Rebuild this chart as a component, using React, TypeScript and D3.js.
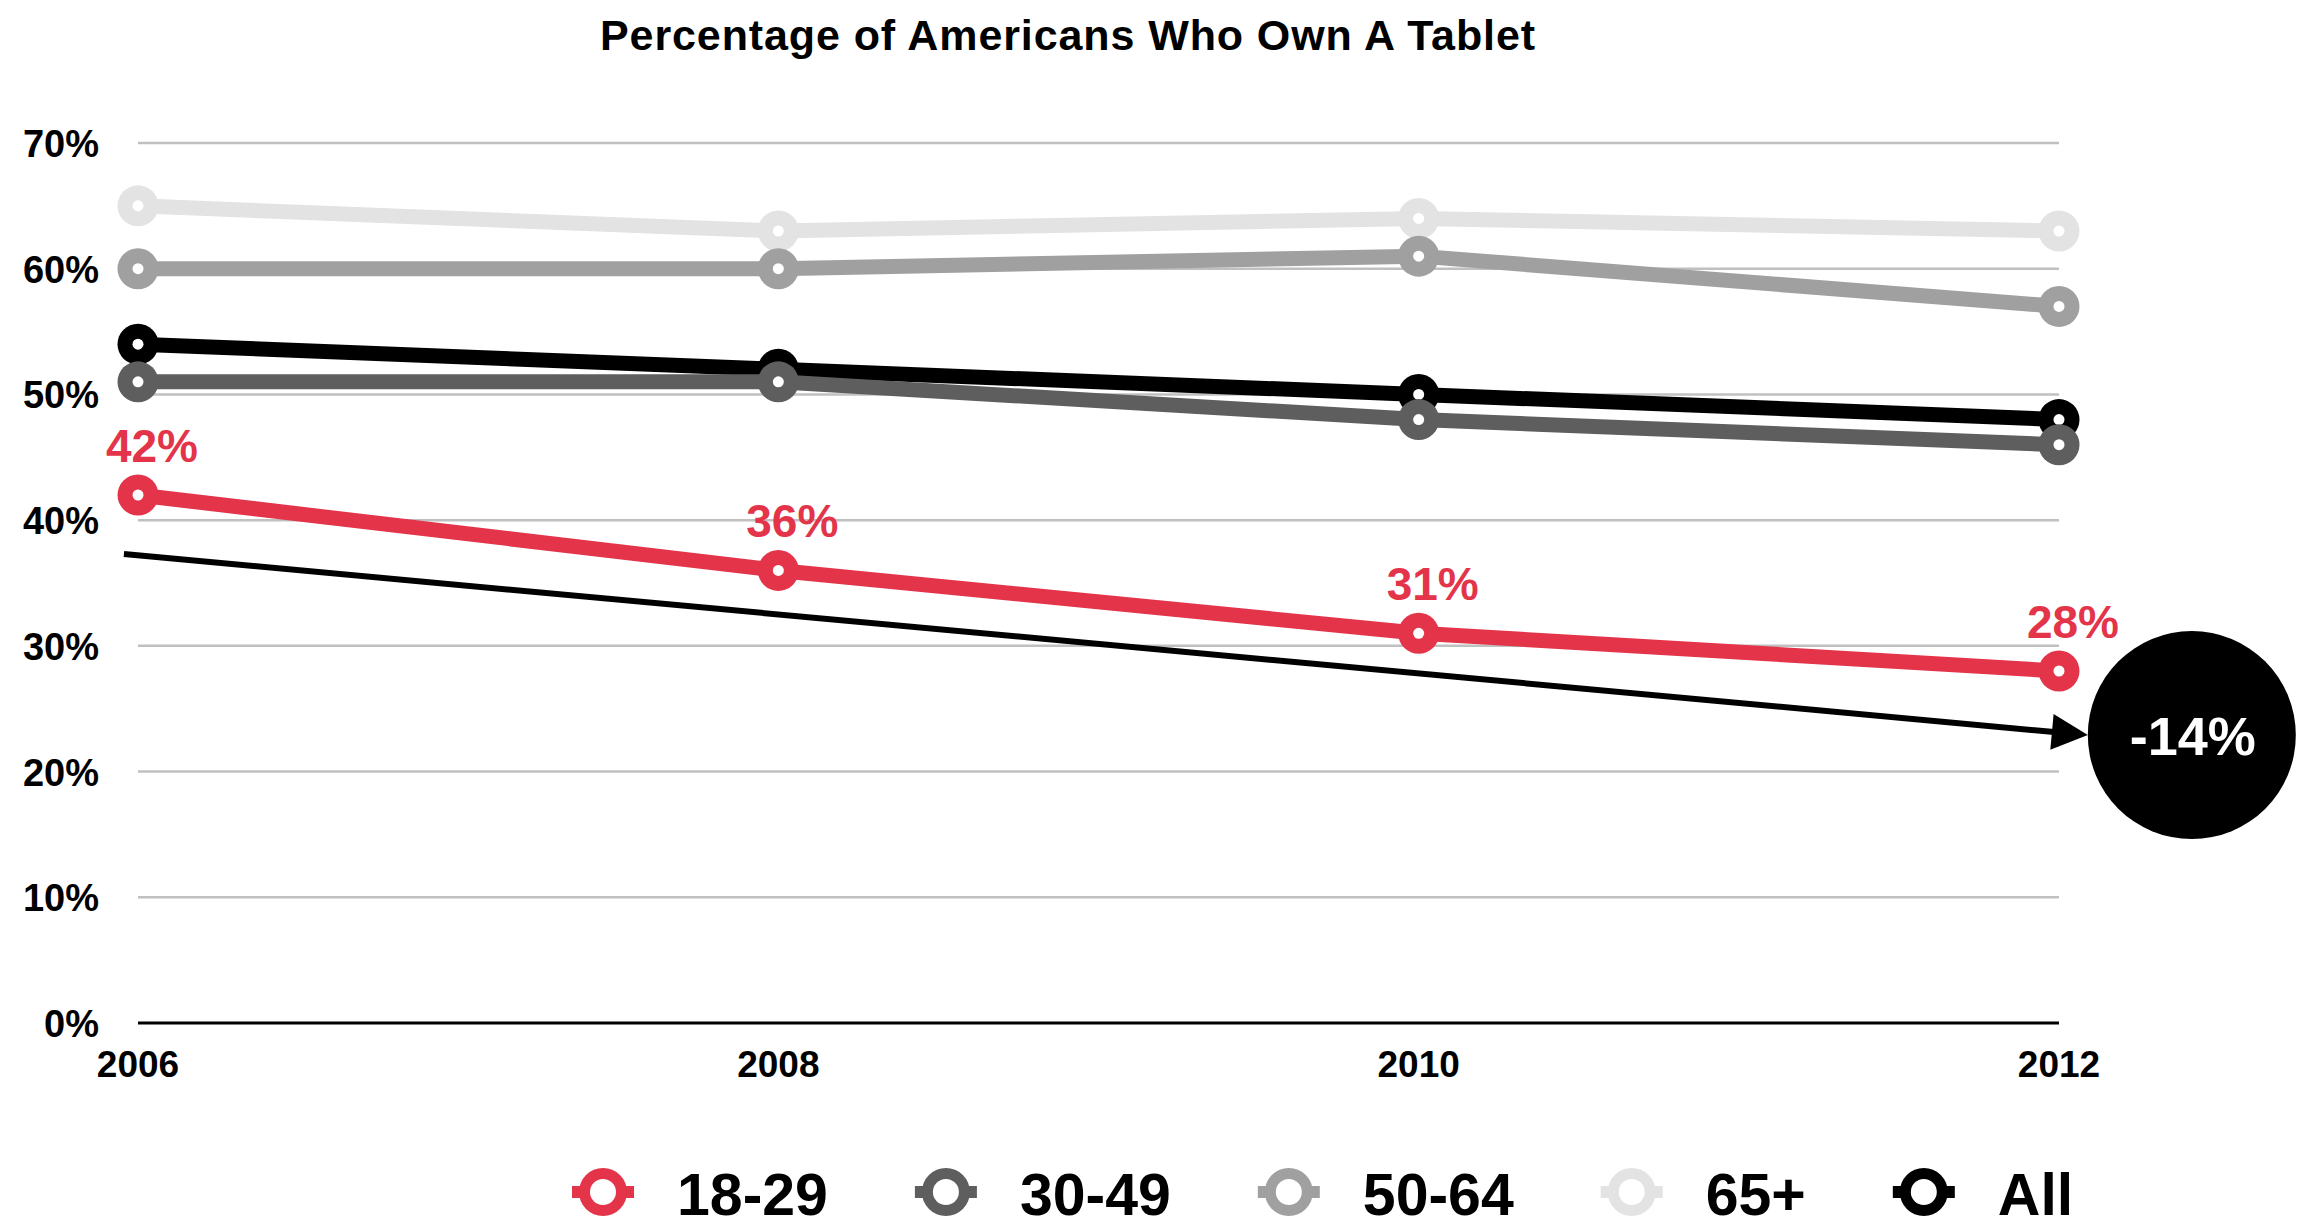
import React, { useEffect, useRef } from "react";
import * as d3 from "d3";

const title = "Percentage of Americans Who Own A Tablet";
const years = [2006, 2008, 2010, 2012];
const yTicks = [0, 10, 20, 30, 40, 50, 60, 70];

const seriesNames = ["18-29", "30-49", "50-64", "65+", "All"];
const youngValues = [42, 36, 31, 28];
const middleValues = [51, 51, 48, 46];
const olderValues = [60, 60, 61, 57];
const seniorValues = [65, 63, 64, 63];
const allValues = [54, 52, 50, 48];

// trend annotation (year, percent)
const trendStart = [2005.956, 37.3];
const trendEnd = [2012.09, 22.9];
const changeLabel = "-14%";

const colors: Record<string, string> = {
  "18-29": "#e3344a",
  "30-49": "#5e5e5e",
  "50-64": "#a0a0a0",
  "65+": "#e2e3e2",
  All: "#000000",
};

const FONT = "'Liberation Sans', Arial, Helvetica, sans-serif";
const W = 2307;
const H = 1228;

const App: React.FC = () => {
  const svgRef = useRef<SVGSVGElement | null>(null);

  useEffect(() => {
    if (!svgRef.current) return;
    const svg = d3.select(svgRef.current);
    svg.selectAll("*").remove();

    const x = d3.scaleLinear().domain([2006, 2012]).range([138, 2059]);
    const y = d3.scaleLinear().domain([0, 70]).range([1023, 143]);

    const valuesByName: Record<string, number[]> = {
      "18-29": youngValues,
      "30-49": middleValues,
      "50-64": olderValues,
      "65+": seniorValues,
      All: allValues,
    };

    svg
      .append("text")
      .attr("x", 1068)
      .attr("y", 50)
      .attr("text-anchor", "middle")
      .attr("font-family", FONT)
      .attr("font-weight", "bold")
      .attr("font-size", 43)
      .attr("letter-spacing", 0.9)
      .text(title);

    // grid
    svg
      .append("g")
      .selectAll("line")
      .data(yTicks.filter((t) => t > 0))
      .enter()
      .append("line")
      .attr("x1", x(2006))
      .attr("x2", x(2012))
      .attr("y1", (d) => y(d))
      .attr("y2", (d) => y(d))
      .attr("stroke", "#c0c0c0")
      .attr("stroke-width", 2.5);

    svg
      .append("line")
      .attr("x1", x(2006))
      .attr("x2", x(2012))
      .attr("y1", y(0))
      .attr("y2", y(0))
      .attr("stroke", "#000")
      .attr("stroke-width", 3);

    svg
      .append("g")
      .selectAll("text")
      .data(yTicks)
      .enter()
      .append("text")
      .attr("x", 99)
      .attr("y", (d) => y(d) + 14)
      .attr("text-anchor", "end")
      .attr("font-family", FONT)
      .attr("font-weight", "bold")
      .attr("font-size", 38)
      .text((d) => `${d}%`);

    svg
      .append("g")
      .selectAll("text")
      .data(years)
      .enter()
      .append("text")
      .attr("x", (d) => x(d))
      .attr("y", 1077)
      .attr("text-anchor", "middle")
      .attr("font-family", FONT)
      .attr("font-weight", "bold")
      .attr("font-size", 37)
      .text((d) => d);

    // trend arrow
    const tx0 = x(trendStart[0]);
    const ty0 = y(trendStart[1]);
    const tx1 = x(trendEnd[0]);
    const ty1 = y(trendEnd[1]);
    const len = Math.hypot(tx1 - tx0, ty1 - ty0);
    const ux = (tx1 - tx0) / len;
    const uy = (ty1 - ty0) / len;
    const headLen = 36;
    const headHalf = 18;
    const bx = tx1 - ux * headLen;
    const by = ty1 - uy * headLen;
    svg
      .append("line")
      .attr("x1", tx0)
      .attr("y1", ty0)
      .attr("x2", bx + ux * 2)
      .attr("y2", by + uy * 2)
      .attr("stroke", "#000")
      .attr("stroke-width", 6);
    svg
      .append("path")
      .attr(
        "d",
        `M${tx1},${ty1}L${bx - uy * headHalf},${by + ux * headHalf}L${bx + uy * headHalf},${by - ux * headHalf}Z`
      )
      .attr("fill", "#000");

    const r = 104;
    svg
      .append("circle")
      .attr("cx", tx1 + r)
      .attr("cy", ty1)
      .attr("r", r)
      .attr("fill", "#000");
    svg
      .append("text")
      .attr("x", tx1 + r + 1)
      .attr("y", ty1 + 20)
      .attr("text-anchor", "middle")
      .attr("font-family", FONT)
      .attr("font-weight", "bold")
      .attr("font-size", 54)
      .attr("fill", "#fff")
      .text(changeLabel);

    // series
    const line = d3
      .line<number>()
      .x((_, i) => x(years[i]))
      .y((d) => y(d));

    const drawOrder = ["All", "65+", "50-64", "30-49", "18-29"];
    drawOrder.forEach((name) => {
      const vals = valuesByName[name];
      const g = svg.append("g");
      g.append("path")
        .datum(vals)
        .attr("fill", "none")
        .attr("stroke", colors[name])
        .attr("stroke-width", 15)
        .attr("d", line);
      const pts = g
        .selectAll("g.pt")
        .data(vals)
        .enter()
        .append("g")
        .attr("transform", (d, i) => `translate(${x(years[i])},${y(d)})`);
      pts.append("circle").attr("r", 20.5).attr("fill", colors[name]);
      pts.append("circle").attr("r", 5.5).attr("fill", "#fff");
    });

    // value labels on the 18-29 line
    svg
      .append("g")
      .selectAll("text")
      .data(youngValues)
      .enter()
      .append("text")
      .attr("x", (d, i) => x(years[i]) + 14)
      .attr("y", (d) => y(d) - 33)
      .attr("text-anchor", "middle")
      .attr("font-family", FONT)
      .attr("font-weight", "bold")
      .attr("font-size", 46)
      .attr("fill", colors["18-29"])
      .text((d) => `${d}%`);

    // legend
    let cx = 603;
    const ly = 1192;
    seriesNames.forEach((name) => {
      const g = svg.append("g");
      g.append("line")
        .attr("x1", cx - 31)
        .attr("x2", cx + 31)
        .attr("y1", ly)
        .attr("y2", ly)
        .attr("stroke", colors[name])
        .attr("stroke-width", 12);
      g.append("circle")
        .attr("cx", cx)
        .attr("cy", ly)
        .attr("r", 24)
        .attr("fill", colors[name]);
      g.append("circle")
        .attr("cx", cx)
        .attr("cy", ly)
        .attr("r", 13)
        .attr("fill", "#fff");
      const t = g
        .append("text")
        .attr("x", cx + 74)
        .attr("y", ly + 23)
        .attr("font-family", FONT)
        .attr("font-weight", "bold")
        .attr("font-size", 59)
        .text(name);
      const tw = (t.node() as SVGTextElement).getComputedTextLength();
      cx = cx + 74 + tw + 118;
    });
  }, []);

  return (
    <svg
      ref={svgRef}
      width={W}
      height={H}
      style={{ position: "absolute", left: 0, top: 0, background: "#fff" }}
    ></svg>
  );
};

export default App;
